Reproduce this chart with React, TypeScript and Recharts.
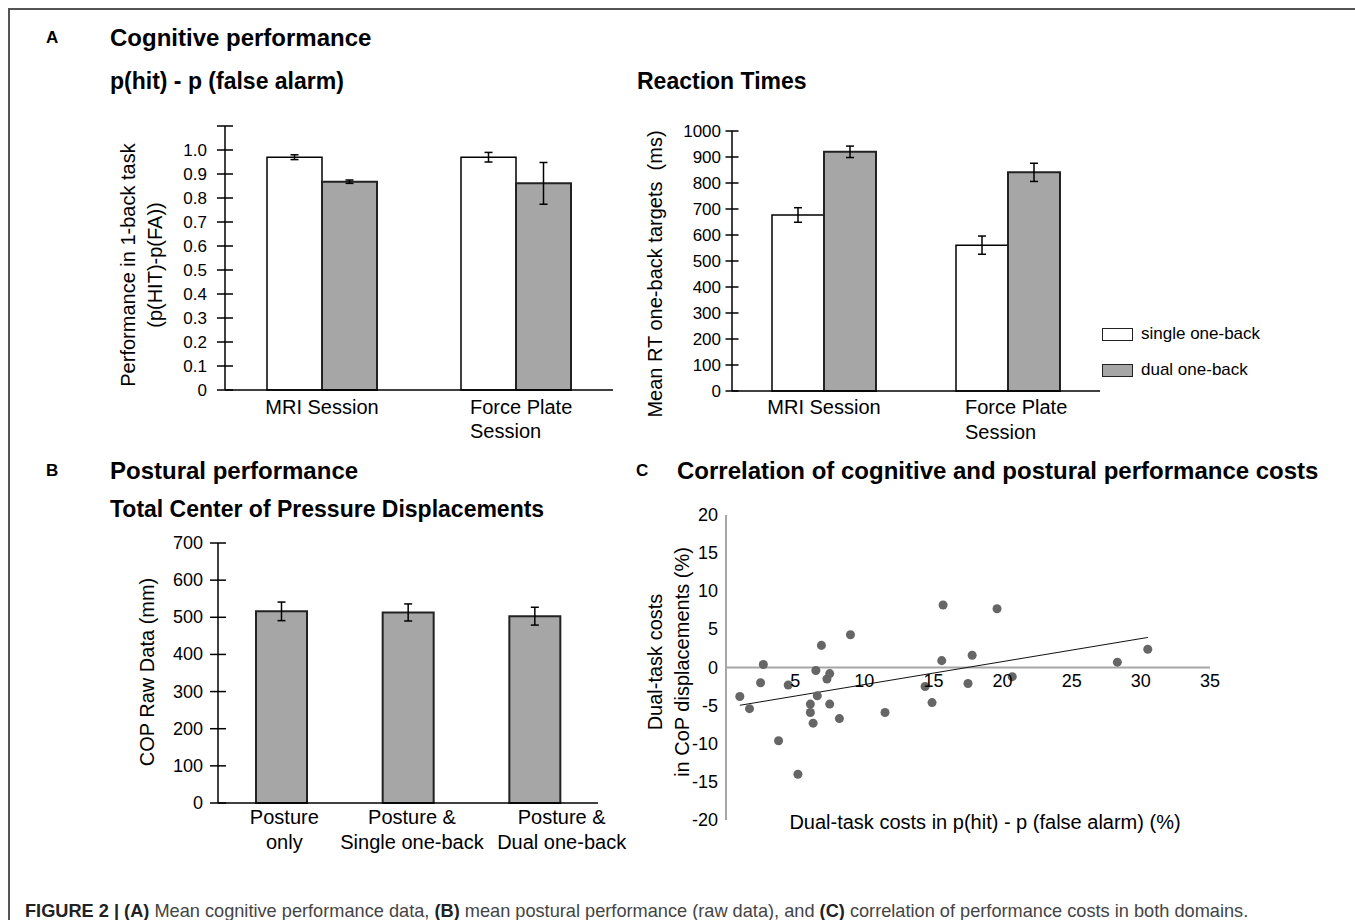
import React from "react";
import {
  Bar,
  BarChart,
  ErrorBar,
  ReferenceLine,
  Scatter,
  ScatterChart,
  XAxis,
  YAxis,
  ZAxis,
} from "recharts";

// Panel A – cognitive performance
const sessions = ["MRI Session", "Force Plate\nSession"];
const hitSingle = [0.97, 0.97];
const hitSingleErr = [0.01, 0.02];
const hitDual = [0.868, 0.861];
const hitDualErr = [0.007, 0.087];
const hitTicks = [0, 0.1, 0.2, 0.3, 0.4, 0.5, 0.6, 0.7, 0.8, 0.9, 1.0, 1.1];

const rtSingle = [677, 561];
const rtSingleErr = [28, 35];
const rtDual = [920, 841];
const rtDualErr = [22, 35];
const rtTicks = [0, 100, 200, 300, 400, 500, 600, 700, 800, 900, 1000];

// Panel B – postural performance
const postureConds = ["Posture\nonly", "Posture &\nSingle one-back", "Posture &\nDual one-back"];
const copMean = [516, 513, 503];
const copErr = [25, 23, 24];
const copTicks = [0, 100, 200, 300, 400, 500, 600, 700];

// Panel C – dual-task costs (%)
const costHit = [1.0, 1.7, 2.7, 2.5, 3.8, 4.5, 5.2, 6.1, 6.1, 6.3, 6.5, 6.6, 6.9, 7.3, 7.5, 7.5, 8.2, 9.0, 11.5, 14.4, 14.9, 15.6, 15.7, 17.5, 17.8, 19.6, 20.7, 28.3, 30.5];
const costCop = [-3.8, -5.4, 0.4, -2.0, -9.6, -2.3, -14.0, -4.8, -5.9, -7.3, -0.4, -3.7, 2.9, -1.5, -0.8, -4.8, -6.7, 4.3, -5.9, -2.5, -4.6, 0.9, 8.2, -2.1, 1.6, 7.7, -1.2, 0.7, 2.4];
const costXTicks = [5, 10, 15, 20, 25, 30, 35];
const costYTicks = [-20, -15, -10, -5, 0, 5, 10, 15, 20];

const FONT = '"Liberation Sans", Arial, Helvetica, sans-serif';
const GRAY = "#a6a6a6";

const hitData = sessions.map((name, i) => ({
  name,
  single: hitSingle[i],
  singleErr: hitSingleErr[i],
  dual: hitDual[i],
  dualErr: hitDualErr[i],
}));

const rtData = sessions.map((name, i) => ({
  name,
  single: rtSingle[i],
  singleErr: rtSingleErr[i],
  dual: rtDual[i],
  dualErr: rtDualErr[i],
}));

const copData = postureConds.map((name, i) => ({ name, cop: copMean[i], err: copErr[i] }));

const costData = costHit.map((x, i) => ({ x, y: costCop[i] }));

const fmtHit = (v: number) => (v > 1.05 ? "" : v === 0 ? "0" : v.toFixed(1));

const YTick = (props: any) => {
  const { x, y, payload, half, gap, fmt, size, line = true } = props;
  return (
    <g>
      {line && <line x1={x - half} x2={x + half} y1={y} y2={y} stroke="#000" strokeWidth={1.5} />}
      <text
        x={x - gap}
        y={y}
        textAnchor="end"
        dominantBaseline="central"
        fontSize={size}
        fontFamily={FONT}
        fill="#000"
      >
        {fmt ? fmt(payload.value) : payload.value}
      </text>
    </g>
  );
};

const CatTick = (props: any) => {
  const { x, y, payload, first, step, size, shift, leftAlign } = props;
  const lines = String(payload.value).split("\n");
  const dx = shift ? shift[payload.index] ?? 0 : 0;
  const multi = lines.length > 1;
  return (
    <text
      x={multi && leftAlign ? x + leftAlign : x + dx}
      y={y}
      textAnchor={multi && leftAlign ? "start" : "middle"}
      fontSize={size}
      fontFamily={FONT}
      fill="#000"
    >
      {lines.map((l, i) => (
        <tspan
          key={i}
          x={multi && leftAlign ? x + leftAlign : x + dx}
          dy={i === 0 ? first : step}
          dominantBaseline="central"
        >
          {l}
        </tspan>
      ))}
    </text>
  );
};

const AxisTitle = ({ xs, y, lines, size = 20 }: { xs: number[]; y: number; lines: string[]; size?: number }) => (
  <g>
    {lines.map((l, i) => (
      <text
        key={i}
        x={xs[i]}
        y={y}
        transform={`rotate(-90 ${xs[i]} ${y})`}
        textAnchor="middle"
        dominantBaseline="central"
        fontSize={size}
        fontFamily={FONT}
        fill="#000"
        style={{ whiteSpace: "pre" }}
      >
        {l}
      </text>
    ))}
  </g>
);

const title = (text: string, left: number, top: number, size: number) => (
  <div
    style={{
      position: "absolute",
      left,
      top,
      fontFamily: FONT,
      fontWeight: 700,
      fontSize: size,
      lineHeight: `${size}px`,
      whiteSpace: "nowrap",
      color: "#000",
    }}
  >
    {text}
  </div>
);

const HitChart = () => (
  <div style={{ position: "absolute", left: 100, top: 110 }}>
    <BarChart width={530} height={340} data={hitData} barGap={0} margin={{ top: 16, right: 17, bottom: 0, left: 0 }}>
      <XAxis
        dataKey="name"
        height={60}
        interval={0}
        tickLine={false}
        tickSize={0}
        tickMargin={0}
        axisLine={{ stroke: "#000", strokeWidth: 1.5 }}
        tick={(p: any) => <CatTick {...p} first={17} step={24} size={20} leftAlign={-46} />}
      />
      <YAxis
        type="number"
        domain={[0, 1.1]}
        ticks={hitTicks}
        width={125}
        tickLine={false}
        tickSize={0}
        tickMargin={0}
        axisLine={{ stroke: "#000", strokeWidth: 1.5 }}
        tick={(p: any) => <YTick {...p} half={8} gap={18} fmt={fmtHit} size={17} />}
        label={{
          content: () => (
            <AxisTitle xs={[28, 55]} y={155} lines={["Performance in 1-back task", "(p(HIT)-p(FA))"]} />
          ),
        }}
      />
      <Bar dataKey="single" fill="#fff" stroke="#000" strokeWidth={1.5} barSize={55} isAnimationActive={false}>
        <ErrorBar dataKey="singleErr" width={4} stroke="#000" strokeWidth={1.5} />
      </Bar>
      <Bar dataKey="dual" fill={GRAY} stroke="#222" strokeWidth={2} barSize={55} isAnimationActive={false}>
        <ErrorBar dataKey="dualErr" width={4} stroke="#000" strokeWidth={1.5} />
      </Bar>
    </BarChart>
  </div>
);

const RtChart = () => (
  <div style={{ position: "absolute", left: 630, top: 115 }}>
    <BarChart width={480} height={340} data={rtData} barGap={0} margin={{ top: 16, right: 10, bottom: 0, left: 0 }}>
      <XAxis
        dataKey="name"
        height={64}
        interval={0}
        tickLine={false}
        tickSize={0}
        tickMargin={0}
        axisLine={{ stroke: "#000", strokeWidth: 1.5 }}
        tick={(p: any) => <CatTick {...p} first={16} step={25} size={20} leftAlign={-43} />}
      />
      <YAxis
        type="number"
        domain={[0, 1000]}
        ticks={rtTicks}
        width={102}
        tickLine={false}
        tickSize={0}
        tickMargin={0}
        axisLine={{ stroke: "#000", strokeWidth: 1.5 }}
        tick={(p: any) => <YTick {...p} half={6.5} gap={11} size={17} />}
        label={{
          content: () => <AxisTitle xs={[25]} y={159} lines={["Mean RT one-back targets  (ms)"]} />,
        }}
      />
      <Bar dataKey="single" fill="#fff" stroke="#000" strokeWidth={1.5} barSize={52} isAnimationActive={false}>
        <ErrorBar dataKey="singleErr" width={4} stroke="#000" strokeWidth={1.5} />
      </Bar>
      <Bar dataKey="dual" fill={GRAY} stroke="#222" strokeWidth={2} barSize={52} isAnimationActive={false}>
        <ErrorBar dataKey="dualErr" width={4} stroke="#000" strokeWidth={1.5} />
      </Bar>
    </BarChart>
  </div>
);

const CopChart = () => (
  <div style={{ position: "absolute", left: 120, top: 527 }}>
    <BarChart width={530} height={340} data={copData} margin={{ top: 16, right: 52, bottom: 0, left: 0 }}>
      <XAxis
        dataKey="name"
        height={64}
        interval={0}
        tickLine={false}
        tickSize={0}
        tickMargin={0}
        axisLine={{ stroke: "#000", strokeWidth: 1.5 }}
        tick={(p: any) => <CatTick {...p} first={14} step={25} size={20} shift={[3, 4, 27]} />}
      />
      <YAxis
        type="number"
        domain={[0, 700]}
        ticks={copTicks}
        width={98}
        tickLine={false}
        tickSize={0}
        tickMargin={0}
        axisLine={{ stroke: "#000", strokeWidth: 1.5 }}
        tick={(p: any) => <YTick {...p} half={8} gap={15} size={18} />}
        label={{
          content: () => <AxisTitle xs={[27]} y={145} lines={["COP Raw Data (mm)"]} />,
        }}
      />
      <Bar dataKey="cop" fill={GRAY} stroke="#222" strokeWidth={2} barSize={51} isAnimationActive={false}>
        <ErrorBar dataKey="err" width={4} stroke="#000" strokeWidth={1.5} />
      </Bar>
    </BarChart>
  </div>
);

const SC_H = 345;
const SC_TOP = 20;
const SC_XAXIS_H = 20;
const SC_PLOT_H = SC_H - SC_TOP - SC_XAXIS_H;

const CostChart = () => (
  <div style={{ position: "absolute", left: 640, top: 495 }}>
    <ScatterChart width={600} height={SC_H} margin={{ top: SC_TOP, right: 30, bottom: 0, left: 0 }}>
      <XAxis
        type="number"
        dataKey="x"
        domain={[0, 35]}
        ticks={costXTicks}
        height={SC_XAXIS_H}
        axisLine={false}
        tickLine={false}
        tickSize={0}
        tickMargin={0}
        tick={(p: any) => (
          <text
            x={p.x}
            y={p.y - SC_PLOT_H / 2 + 13}
            textAnchor="middle"
            dominantBaseline="central"
            fontSize={18}
            fontFamily={FONT}
            fill="#000"
          >
            {p.payload.value}
          </text>
        )}
        label={{
          content: () => (
            <text
              x={345}
              y={327}
              textAnchor="middle"
              dominantBaseline="central"
              fontSize={20}
              fontFamily={FONT}
              fill="#000"
            >
              Dual-task costs in p(hit) - p (false alarm) (%)
            </text>
          ),
        }}
      />
      <YAxis
        type="number"
        dataKey="y"
        domain={[-20, 20]}
        ticks={costYTicks}
        width={86}
        tickLine={false}
        tickSize={0}
        tickMargin={0}
        axisLine={{ stroke: GRAY, strokeWidth: 2 }}
        tick={(p: any) => <YTick {...p} line={false} gap={8} size={18} />}
        label={{
          content: () => (
            <AxisTitle xs={[15, 42]} y={167} lines={["Dual-task costs", "in CoP displacements (%)"]} />
          ),
        }}
      />
      <ZAxis range={[40, 40]} />
      <ReferenceLine y={0} stroke={GRAY} strokeWidth={2} />
      <Scatter
        data={costData}
        fill="#666"
        line={{ stroke: "#111", strokeWidth: 1 }}
        lineType="fitting"
        isAnimationActive={false}
      />
    </ScatterChart>
  </div>
);

const LegendBox = ({ top, fill, label }: { top: number; fill: string; label: string }) => (
  <div style={{ position: "absolute", left: 1102, top, display: "flex", alignItems: "center" }}>
    <div
      style={{
        width: 29,
        height: 11,
        background: fill,
        border: "1.5px solid #222",
      }}
    />
    <span style={{ marginLeft: 8, fontFamily: FONT, fontSize: 17, color: "#000", whiteSpace: "nowrap" }}>
      {label}
    </span>
  </div>
);

export default function App() {
  return (
    <div style={{ position: "absolute", left: 0, top: 0, width: 1355, height: 920, background: "#fff", overflow: "hidden" }}>
      <div
        style={{
          position: "absolute",
          left: 8,
          top: 8,
          width: 1360,
          height: 920,
          borderTop: "2px solid #555",
          borderLeft: "2px solid #555",
        }}
      />
      {title("A", 46, 29, 17)}
      {title("Cognitive performance", 110, 26, 24)}
      {title("p(hit) - p (false alarm)", 110, 70, 23)}
      {title("Reaction Times", 637, 70, 23)}
      {title("B", 46, 462, 17)}
      {title("Postural performance", 110, 459, 24)}
      {title("Total Center of Pressure Displacements", 110, 498, 23)}
      {title("C", 636, 462, 17)}
      {title("Correlation of cognitive and postural performance costs", 677, 459, 24)}

      <HitChart />
      <RtChart />
      <CopChart />
      <CostChart />

      <LegendBox top={324} fill="#fff" label="single one-back" />
      <LegendBox top={360} fill={GRAY} label="dual one-back" />

      <div
        style={{
          position: "absolute",
          left: 25,
          top: 902,
          fontFamily: FONT,
          fontSize: 18.2,
          lineHeight: "18px",
          color: "#444",
          whiteSpace: "nowrap",
        }}
      >
        <b style={{ color: "#222" }}>FIGURE 2 | (A)</b> Mean cognitive performance data, <b style={{ color: "#222" }}>(B)</b>{" "}
        mean postural performance (raw data), and <b style={{ color: "#222" }}>(C)</b> correlation of performance costs in
        both domains.
      </div>
    </div>
  );
}
